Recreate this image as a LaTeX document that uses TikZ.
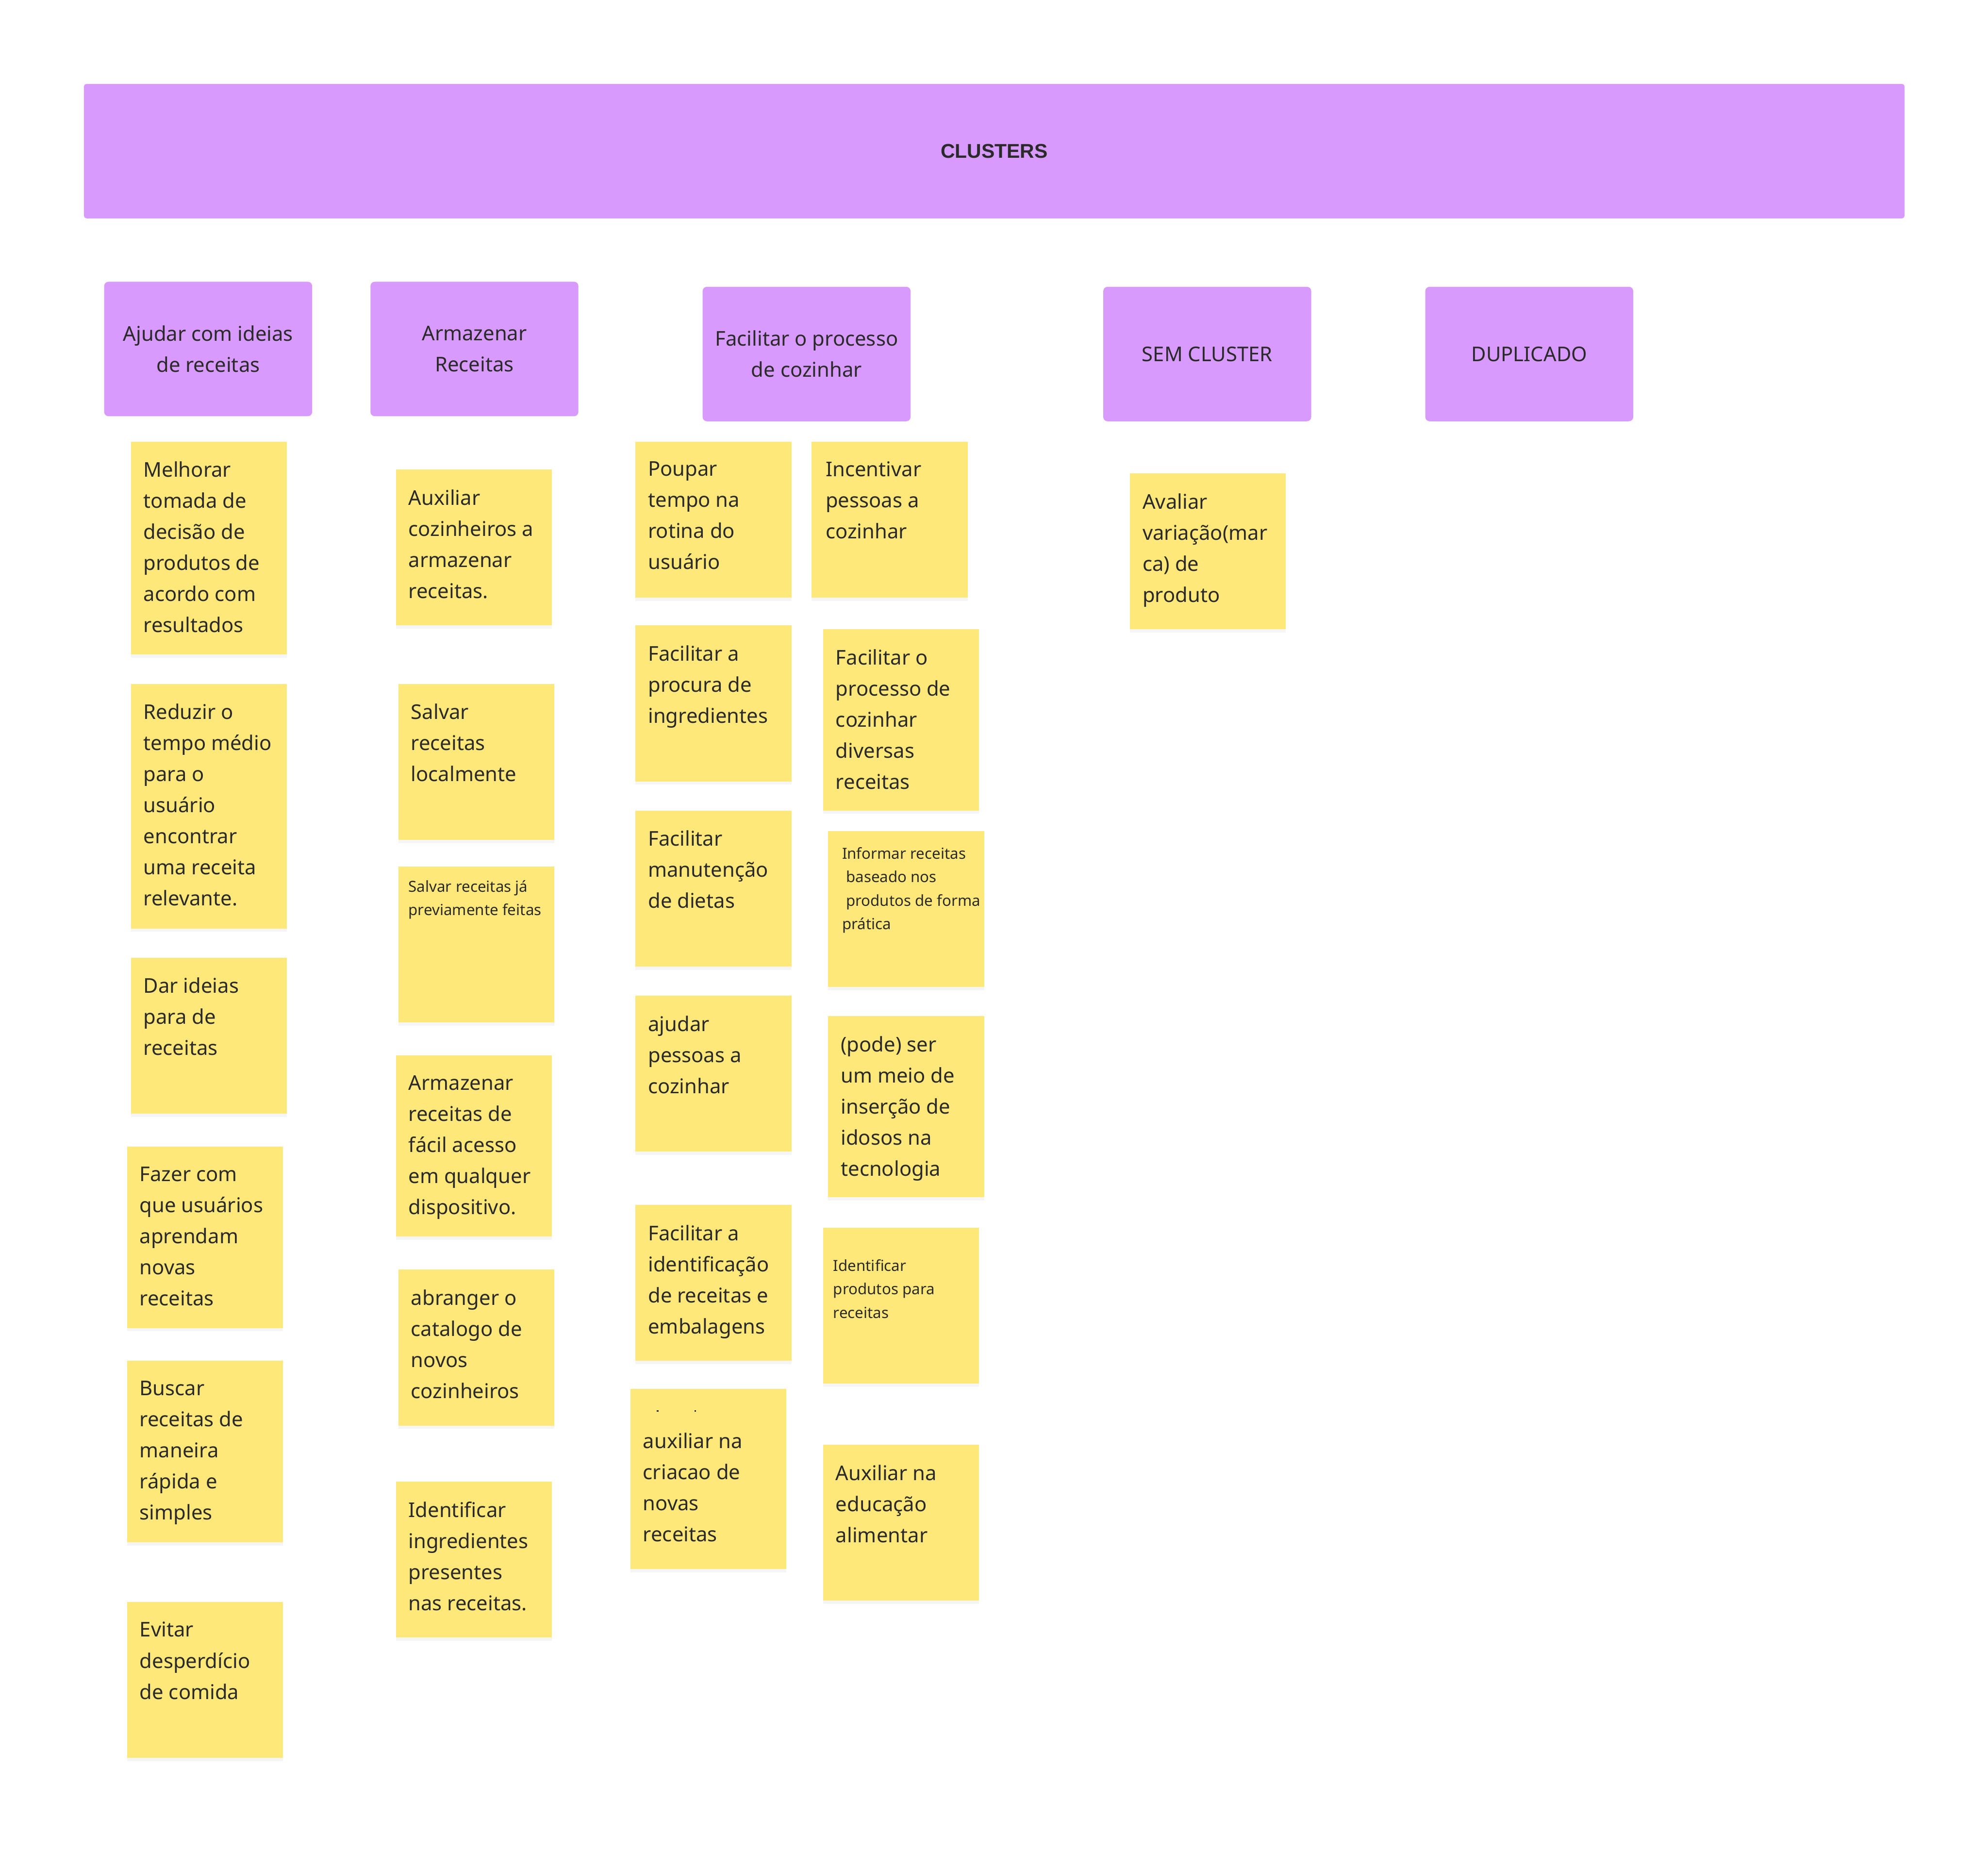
\documentclass[tikz,border=0pt]{standalone}
\usepackage{fontspec}
\setmainfont{Noto Sans}
\newfontfamily\headbold{Liberation Sans}
\usetikzlibrary{shadows}
\definecolor{purp}{HTML}{D99AFE}
\definecolor{sticky}{HTML}{FFE87A}
\definecolor{ink}{HTML}{2A2A2A}
\def\U{0.03898cm}
\newcommand{\bigtxt}{\fontsize{17.75}{27.18}\selectfont}
\newcommand{\smalltxt}{\fontsize{13.3}{20.5}\selectfont}
\tikzset{
  cluster/.style={fill=purp, draw=none, rounded corners=0.13cm, anchor=north west,
    align=center, text=ink, font=\bigtxt, inner sep=0pt},
  note/.style={fill=sticky, draw=none, anchor=north west, inner sep=0pt,
    minimum width=123*\U,
    drop shadow={opacity=0.08, shadow xshift=0cm, shadow yshift=-0.10cm}},
  notetext/.style={anchor=north west, inner sep=0pt, align=left, text=ink, font=\bigtxt,
    yshift=0.7*27.18pt, execute at begin node=\strut},
  smalltext/.style={anchor=north west, inner sep=0pt, align=left, text=ink, font=\smalltxt,
    yshift=0.7*20.5pt, execute at begin node=\strut},
  dot/.style={fill=ink, draw=none, inner sep=0pt, minimum size=1.2*\U},
}
% name, x, y, height, text style, dx, dy (first baseline), text
\newcommand{\sticky}[8]{%
  \node[note, minimum height=#4*\U] (#1) at (#2,#3) {};
  \node[#5] (#1t) at (#2+#6,#3+#7+6) {#8};
}
\begin{document}
\begin{tikzpicture}[x=0.03898cm, y=-0.03898cm]
\useasboundingbox[fill=white] (0,0) rectangle (1568,1460.25);

% main header
\node[cluster, minimum width=1436*\U, minimum height=106*\U, rounded corners=0.08cm,
  font={\fontsize{17.4}{27}\selectfont\headbold\bfseries}] (clusters) at (66,66) {CLUSTERS};

% cluster headers
\node[cluster, minimum width=164*\U, minimum height=106*\U] (h1) at (82,222) {Ajudar com ideias\\de receitas};
\node[cluster, minimum width=164*\U, minimum height=106*\U] (h2) at (292,222) {Armazenar\\Receitas};
\node[cluster, minimum width=164*\U, minimum height=106*\U] (h3) at (554,226) {Facilitar o processo\\de cozinhar};
\node[cluster, minimum width=164*\U, minimum height=106*\U] (h4) at (870,226) {SEM CLUSTER};
\node[cluster, minimum width=164*\U, minimum height=106*\U] (h5) at (1124,226) {DUPLICADO};

% column 1
\sticky{n1}{103}{348}{168}{notetext}{10}{27}{Melhorar\\tomada de\\decisão de\\produtos de\\acordo com\\resultados}
\sticky{n2}{103}{539}{193}{notetext}{10}{27}{Reduzir o\\tempo médio\\para o\\usuário\\encontrar\\uma receita\\relevante.}
\sticky{n3}{103}{755}{123}{notetext}{10}{27}{Dar ideias\\para de\\receitas}
\sticky{n4}{100}{904}{143}{notetext}{10}{27}{Fazer com\\que usuários\\aprendam\\novas\\receitas}
\sticky{n5}{100}{1073}{143}{notetext}{10}{27}{Buscar\\receitas de\\maneira\\rápida e\\simples}
\sticky{n6}{100}{1263}{123}{notetext}{10}{27}{Evitar\\desperdício\\de comida}

% column 2
\sticky{a1}{312}{370}{123}{notetext}{10}{27}{Auxiliar\\cozinheiros a\\armazenar\\receitas.}
\sticky{a2}{314}{539}{123}{notetext}{10}{27}{Salvar\\receitas\\localmente}
\sticky{a3}{314}{683}{123}{smalltext}{8}{18}{Salvar receitas já\\previamente feitas}
\sticky{a4}{312}{832}{143}{notetext}{10}{27}{Armazenar\\receitas de\\fácil acesso\\em qualquer\\dispositivo.}
\sticky{a5}{314}{1001}{123}{notetext}{10}{27}{abranger o\\catalogo de\\novos\\cozinheiros}
\sticky{a6}{312}{1168}{123}{notetext}{10}{27}{Identificar\\ingredientes\\presentes\\nas receitas.}

% column 3a
\sticky{f1}{501}{348}{123}{notetext}{10}{27}{Poupar\\tempo na\\rotina do\\usuário}
\sticky{f2}{501}{493}{123}{notetext}{10}{27}{Facilitar a\\procura de\\ingredientes}
\sticky{f3}{501}{639}{123}{notetext}{10}{27}{Facilitar\\manutenção\\de dietas}
\sticky{f4}{501}{785}{123}{notetext}{10}{27}{ajudar\\pessoas a\\cozinhar}
\sticky{f5}{501}{950}{123}{notetext}{10}{27}{Facilitar a\\identificação\\de receitas e\\embalagens}
\sticky{f6}{497}{1095}{142}{notetext}{10}{46}{auxiliar na\\criacao de\\novas\\receitas}
\node[dot] (f6d1) at (518.7,1112.5) {};
\node[dot] (f6d2) at (548.5,1112.5) {};

% column 3b
\sticky{g1}{640}{348}{123}{notetext}{11}{27}{Incentivar\\pessoas a\\cozinhar}
\sticky{g2}{649}{496}{143}{notetext}{10}{27}{Facilitar o\\processo de\\cozinhar\\diversas\\receitas}
\sticky{g3}{653}{655}{123}{smalltext}{11}{20}{Informar receitas\\\hspace*{0.26em}baseado nos\\\hspace*{0.26em}produtos de forma\\prática}
\sticky{g4}{653}{801}{143}{notetext}{10}{27}{(pode) ser\\um meio de\\inserção de\\idosos na\\tecnologia}
\sticky{g5}{649}{968}{123}{smalltext}{8}{32}{Identificar\\produtos para\\receitas}
\sticky{g6}{649}{1139}{123}{notetext}{10}{27}{Auxiliar na\\educação\\alimentar}

% sem cluster
\sticky{s1}{891}{373}{123}{notetext}{10}{27}{Avaliar\\variação(mar\\ca) de\\produto}
\end{tikzpicture}
\end{document}
